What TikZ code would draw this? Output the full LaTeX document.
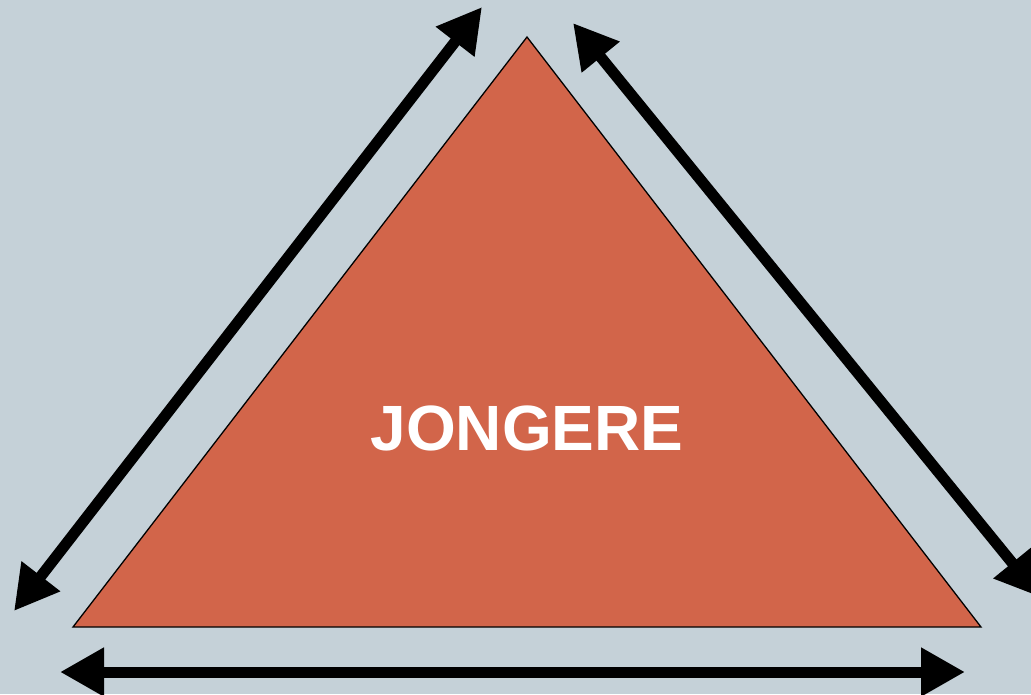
\documentclass[tikz,border=0pt]{standalone}
\usepackage{fontspec}
\setmainfont{Liberation Sans}
\usetikzlibrary{arrows.meta}
\definecolor{bgblue}{HTML}{C5D1D8}
\definecolor{brick}{HTML}{D2654A}
\tikzset{
  dblarrow/.style={line width=11pt, {Triangle[length=44pt,width=46pt]}-{Triangle[length=44pt,width=46pt]}},
  tri/.style={fill=brick, draw=black, line width=1.3pt, line join=miter},
  label/.style={text=white, font=\fontsize{64}{64}\selectfont\bfseries, inner sep=0pt}
}
\begin{document}
\begin{tikzpicture}[x=1pt, y=-1pt]
  \fill[bgblue] (0,0) rectangle (1031,694);
  \useasboundingbox (0,0) rectangle (1031,694);
  % triangle corners
  \coordinate (apex) at (527,37);
  \coordinate (bl) at (73,627);
  \coordinate (br) at (981,627);
  \draw[tri] (apex) -- (bl) -- (br) -- cycle;
  \node[label] (title) at (527,428) {JONGERE};
  % arrow end points
  \coordinate (la) at (14,611);
  \coordinate (lb) at (482,7);
  \coordinate (ra) at (573,23);
  \coordinate (rb) at (1040,597);
  \coordinate (ba) at (60,672);
  \coordinate (bb) at (965,672);
  \draw[dblarrow] (la) -- (lb);
  \draw[dblarrow] (ra) -- (rb);
  \draw[dblarrow] (ba) -- (bb);
\end{tikzpicture}
\end{document}
